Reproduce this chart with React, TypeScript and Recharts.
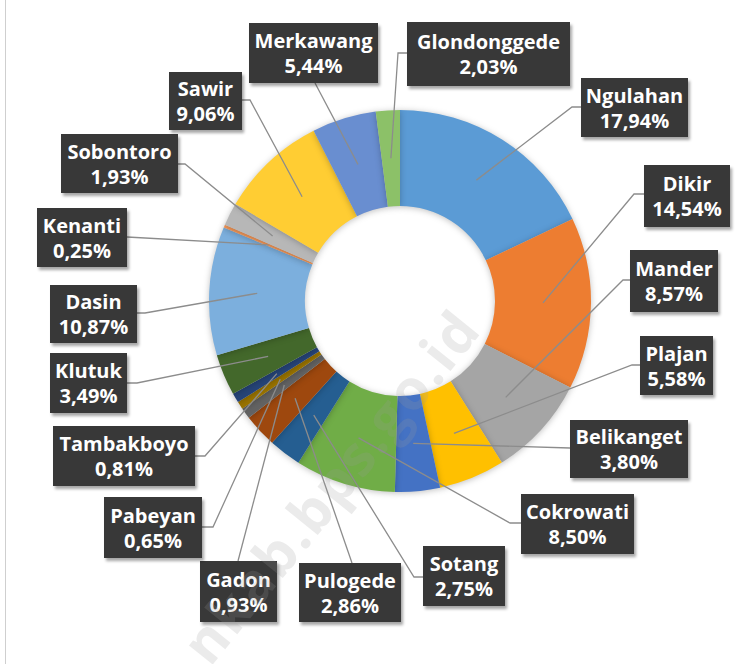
import React from "react";
import { PieChart, Pie, Cell } from "recharts";

const villages = [
  "Ngulahan", "Dikir", "Mander", "Plajan", "Belikanget", "Cokrowati",
  "Sotang", "Pulogede", "Gadon", "Pabeyan", "Tambakboyo", "Klutuk",
  "Dasin", "Kenanti", "Sobontoro", "Sawir", "Merkawang", "Glondonggede",
];

const shares = [
  17.94, 14.54, 8.57, 5.58, 3.8, 8.5,
  2.75, 2.86, 0.93, 0.65, 0.81, 3.49,
  10.87, 0.25, 1.93, 9.06, 5.44, 2.03,
];

const sliceColors = [
  "#5B9BD5", "#ED7D31", "#A5A5A5", "#FFC000", "#4472C4", "#70AD47",
  "#255E91", "#9E480E", "#636363", "#997300", "#264478", "#43682B",
  "#7CAFDD", "#F1975A", "#B7B7B7", "#FFCD33", "#698ED0", "#8CC168",
];

// label box placement: [x, y, w, h], elbow point, attach point on the box
const labelBoxes = [
  { box: [581, 78, 107, 59], elbow: [572, 107], attach: [581, 107] },
  { box: [644, 165, 86, 62], elbow: [634, 194], attach: [644, 194] },
  { box: [630, 250, 88, 62], elbow: [623, 280], attach: [630, 280] },
  { box: [640, 336, 73, 59], elbow: [632, 365], attach: [640, 365] },
  { box: [570, 420, 118, 58], elbow: [570, 448], attach: [570, 448] },
  { box: [521, 494, 113, 60], elbow: [510, 523], attach: [521, 523] },
  { box: [423, 546, 82, 60], elbow: [414, 577], attach: [423, 577] },
  { box: [299, 563, 102, 59], elbow: [352, 563], attach: [352, 563] },
  { box: [200, 561, 77, 61], elbow: [238, 561], attach: [238, 561] },
  { box: [104, 497, 98, 61], elbow: [213, 527], attach: [202, 527] },
  { box: [53, 426, 142, 60], elbow: [205, 456], attach: [195, 456] },
  { box: [50, 353, 77, 60], elbow: [137, 383], attach: [127, 383] },
  { box: [50, 285, 87, 58], elbow: [145, 313], attach: [137, 313] },
  { box: [37, 208, 90, 59], elbow: [127, 237], attach: [127, 237] },
  { box: [61, 134, 117, 59], elbow: [185, 164], attach: [178, 164] },
  { box: [169, 72, 73, 58], elbow: [250, 100], attach: [242, 100] },
  { box: [249, 23, 129, 60], elbow: [315, 83], attach: [315, 83] },
  { box: [407, 22, 163, 64], elbow: [398, 53], attach: [407, 53] },
];

const data = villages.map((name, i) => ({ name, value: shares[i] }));

const RAD = Math.PI / 180;

function fmt(v: number) {
  return v.toFixed(2).replace(".", ",") + "%";
}

function renderLabel(props: any) {
  const { cx, cy, midAngle, innerRadius, outerRadius, index, name, value } = props;
  const r = (innerRadius + outerRadius) / 2;
  const ax = cx + r * Math.cos(-midAngle * RAD);
  const ay = cy + r * Math.sin(-midAngle * RAD);
  const lb = labelBoxes[index];
  const [bx, by, bw, bh] = lb.box;
  const tx = bx + bw / 2;
  return (
    <g key={`lbl-${index}`}>
      <polyline
        points={`${ax},${ay} ${lb.elbow[0]},${lb.elbow[1]} ${lb.attach[0]},${lb.attach[1]}`}
        fill="none"
        stroke="#8c8c8c"
        strokeWidth={1.3}
      />
      <rect x={bx} y={by} width={bw} height={bh} fill="#383838" filter="url(#boxShadow)" />
      <text
        x={tx}
        y={by + bh / 2 - 5}
        textAnchor="middle"
        fill="#ffffff"
        fontFamily="'Open Sans', sans-serif"
        fontWeight={700}
        fontSize={20}
      >
        {name}
      </text>
      <text
        x={tx}
        y={by + bh / 2 + 20}
        textAnchor="middle"
        fill="#ffffff"
        fontFamily="'Open Sans', sans-serif"
        fontWeight={700}
        fontSize={20}
      >
        {fmt(value)}
      </text>
    </g>
  );
}

export default function App() {
  return (
    <div style={{ position: "absolute", left: 0, top: 0, width: 755, height: 664, background: "#fff", overflow: "hidden" }}>
      <style>{`.recharts-pie-sector { filter: drop-shadow(0px 1px 3px rgba(0,0,0,0.25)); }`}</style>
      <div style={{ position: "absolute", left: 5, top: 0, width: 1, height: 664, background: "#cfcfcf" }} />
      <PieChart width={755} height={664}>
        <defs>
          <filter id="boxShadow" x="-20%" y="-20%" width="150%" height="150%">
            <feDropShadow dx="2" dy="3" stdDeviation="1.5" floodColor="#000" floodOpacity="0.35" />
          </filter>
        </defs>
        <Pie
          data={data}
          dataKey="value"
          nameKey="name"
          cx={395}
          cy={296}
          innerRadius={95}
          outerRadius={191}
          startAngle={90}
          endAngle={-270}
          stroke="none"
          label={renderLabel}
          labelLine={false}
          isAnimationActive={false}
        >
          {data.map((d, i) => (
            <Cell key={d.name} fill={sliceColors[i]} stroke="none" />
          ))}
        </Pie>
      </PieChart>
      <svg
        width={755}
        height={664}
        style={{ position: "absolute", left: 0, top: 0, pointerEvents: "none" }}
      >
        <text
          x={210}
          y={668}
          transform="rotate(-51 210 668)"
          textAnchor="start"
          fill="#9a9a9a"
          fillOpacity={0.2}
          fontFamily="'Open Sans', sans-serif"
          fontWeight={700}
          fontSize={56}
          letterSpacing={2}
        >
          nkab.bps.go.id
        </text>
      </svg>
    </div>
  );
}
